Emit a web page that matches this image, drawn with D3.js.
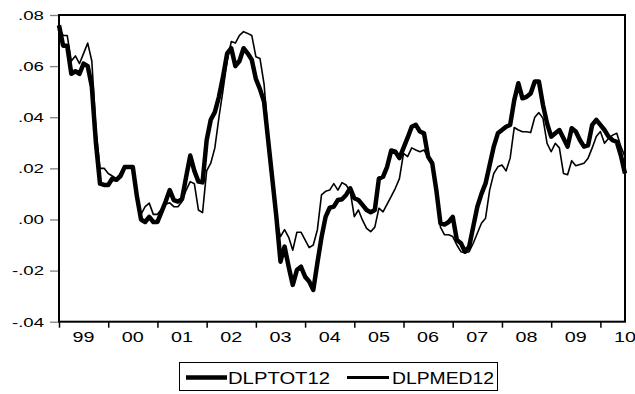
<!DOCTYPE html>
<html>
<head>
<meta charset="utf-8">
<script src="https://cdn.jsdelivr.net/npm/d3@7"></script>
<style>
  html, body { margin: 0; padding: 0; background: #fff; }
  svg { display: block; }
  text { font-family: "Liberation Sans", Arial, sans-serif; fill: #000; }
</style>
</head>
<body>
<svg id="chart" width="635" height="394"></svg>
<script>
// Monthly observations, 1999M01 .. 2010M07
const startYear = 1999;
const yearLabels = ["99","00","01","02","03","04","05","06","07","08","09","10"];
const yTicks = [-0.04, -0.02, 0.00, 0.02, 0.04, 0.06, 0.08];
const yTickLabels = ["-.04", "-.02", ".00", ".02", ".04", ".06", ".08"];
const seriesNames = ["DLPTOT12", "DLPMED12"];

const dlptot12 = [
  0.076, 0.068, 0.068, 0.057, 0.058, 0.057, 0.061, 0.060, 0.052, 0.030, 0.014, 0.0135,
  0.0135, 0.016, 0.0155, 0.017, 0.0205, 0.0205, 0.0205, 0.009, 0.000, -0.001, 0.001, -0.001,
  -0.001, 0.003, 0.007, 0.0115, 0.0076, 0.007, 0.008, 0.0167, 0.025, 0.019, 0.0148, 0.0145,
  0.031, 0.039, 0.042, 0.048, 0.056, 0.065, 0.067, 0.060, 0.062, 0.067, 0.065, 0.0625,
  0.055, 0.051, 0.046, 0.031, 0.016, 0.001, -0.0165, -0.0106, -0.0185, -0.0256, -0.0198, -0.0185,
  -0.0224, -0.0243, -0.0276, -0.017, -0.007, 0.001, 0.0046, 0.005, 0.0076, 0.0079, 0.0096, 0.0122,
  0.0083, 0.0076, 0.0057, 0.0037, 0.0028, 0.0037, 0.016, 0.0167, 0.0206, 0.027, 0.0265, 0.024,
  0.028, 0.032, 0.0363, 0.037, 0.0344, 0.0337, 0.0246, 0.022, 0.0115, -0.0015, -0.002, -0.001,
  0.001, -0.008, -0.0093, -0.0126, -0.0107, -0.0028, 0.005, 0.010, 0.0141, 0.0213, 0.0285, 0.0337,
  0.035, 0.0363, 0.037, 0.0467, 0.0533, 0.0474, 0.048, 0.0493, 0.054, 0.054, 0.0448, 0.0376,
  0.0324, 0.0337, 0.035, 0.0318, 0.0285, 0.0357, 0.0344, 0.0311, 0.0285, 0.029, 0.037, 0.039,
  0.037, 0.035, 0.0324, 0.031, 0.0304, 0.025, 0.018
];

const dlpmed12 = [
  0.075, 0.072, 0.072, 0.062, 0.064, 0.061, 0.065, 0.069, 0.062, 0.035, 0.020, 0.020,
  0.018, 0.017, 0.016, 0.018, 0.021, 0.021, 0.020, 0.010, 0.002, 0.005, 0.0064, 0.002,
  0.002, 0.004, 0.006, 0.0065, 0.005, 0.005, 0.007, 0.0115, 0.0148, 0.014, 0.0037, 0.0027,
  0.019, 0.022, 0.028, 0.040, 0.0507, 0.062, 0.0696, 0.069, 0.072, 0.0735, 0.0728, 0.072,
  0.0637, 0.063, 0.053, 0.033, 0.017, 0.000, -0.0067, -0.004, -0.007, -0.012, -0.005, -0.005,
  -0.008, -0.011, -0.010, -0.004, 0.0096, 0.011, 0.0115, 0.014, 0.0115, 0.0144, 0.0135, 0.011,
  0.0011, 0.0037, -0.0003, -0.0035, -0.0048, -0.003, 0.0044, 0.003, 0.006, 0.009, 0.0122, 0.016,
  0.0259, 0.0246, 0.028, 0.0272, 0.0265, 0.0272, 0.024, 0.022, 0.010, -0.003, -0.006, -0.006,
  -0.0067, -0.010, -0.0126, -0.013, -0.0126, -0.0093, -0.0054, -0.0015, 0.0005, 0.0115, 0.018, 0.0206,
  0.0213, 0.019, 0.024, 0.036, 0.035, 0.0343, 0.0343, 0.034, 0.040, 0.0418, 0.0396, 0.0298,
  0.0265, 0.0298, 0.028, 0.018, 0.0175, 0.023, 0.021, 0.0215, 0.022, 0.024, 0.028, 0.0325,
  0.0344, 0.0298, 0.0318, 0.033, 0.0337, 0.0285, 0.0246
];

const svg = d3.select("#chart");
const plot = { left: 59, right: 625, top: 15, bottom: 321.7 };

const n = dlptot12.length;
const x = d3.scaleLinear().domain([0, n - 1]).range([plot.left, plot.right]);
const y = d3.scaleLinear().domain([-0.04, 0.08]).range([plot.bottom, plot.top]);

// Left axis: grey tick marks outside the frame, labels right-aligned
const yAxis = d3.axisLeft(y)
  .tickValues(yTicks)
  .tickSize(8)
  .tickPadding(6)
  .tickFormat((d, i) => yTickLabels[i]);
const gy = svg.append("g").attr("transform", `translate(${plot.left - 1},0)`).call(yAxis);
gy.select(".domain").remove();
gy.selectAll(".tick line").attr("stroke", "#808080").attr("stroke-width", 1.3);
gy.selectAll(".tick text")
  .attr("font-size", 12.5)
  .attr("dy", "0.35em")
  .attr("fill", "#000")
  .attr("textLength", (d, i) => yTickLabels[i].startsWith("-") ? 32 : 26)
  .attr("lengthAdjust", "spacingAndGlyphs");

// Bottom axis: year boundary ticks, labels centred in each year
const yearTicks = yearLabels.map((_, k) => k * 12).filter(v => v <= n - 1);
const xAxis = d3.axisBottom(x).tickValues(yearTicks).tickSize(6).tickFormat("");
const gx = svg.append("g").attr("transform", `translate(0,${plot.bottom})`).call(xAxis);
gx.select(".domain").remove();
gx.selectAll(".tick line").attr("stroke", "#000").attr("stroke-width", 1.5);

svg.append("g").selectAll("text")
  .data(yearLabels)
  .join("text")
  .attr("x", (d, k) => x(k * 12 + 6))
  .attr("y", 341.5)
  .attr("text-anchor", "middle")
  .attr("font-size", 15)
  .attr("textLength", 22)
  .attr("lengthAdjust", "spacingAndGlyphs")
  .text(d => d);

// Series lines
const line = d3.line().x((d, i) => x(i)).y(d => y(d));

svg.append("path")
  .datum(dlpmed12)
  .attr("fill", "none")
  .attr("stroke", "#000")
  .attr("stroke-width", 1.6)
  .attr("stroke-linejoin", "round")
  .attr("d", line);

svg.append("path")
  .datum(dlptot12)
  .attr("fill", "none")
  .attr("stroke", "#000")
  .attr("stroke-width", 4.5)
  .attr("stroke-linejoin", "round")
  .attr("d", line);

// Frame
svg.append("rect")
  .attr("x", plot.left)
  .attr("y", plot.top)
  .attr("width", plot.right - plot.left)
  .attr("height", plot.bottom - plot.top)
  .attr("fill", "none")
  .attr("stroke", "#000")
  .attr("stroke-width", 2);

// Legend
const legend = svg.append("g");
legend.append("rect")
  .attr("x", 179.5).attr("y", 362.5)
  .attr("width", 318).attr("height", 28)
  .attr("fill", "#fff")
  .attr("stroke", "#000")
  .attr("stroke-width", 1);

const legendItems = [
  { name: seriesNames[0], x1: 186, x2: 227, width: 4.5, tx: 228, tw: 102 },
  { name: seriesNames[1], x1: 347, x2: 389, width: 2.8, tx: 392, tw: 102 }
];
legendItems.forEach(it => {
  legend.append("line")
    .attr("x1", it.x1).attr("x2", it.x2)
    .attr("y1", 377.5).attr("y2", 377.5)
    .attr("stroke", "#000").attr("stroke-width", it.width);
  legend.append("text")
    .attr("x", it.tx).attr("y", 383.5)
    .attr("font-size", 16)
    .attr("textLength", it.tw)
    .attr("lengthAdjust", "spacingAndGlyphs")
    .text(it.name);
});
</script>
</body>
</html>
